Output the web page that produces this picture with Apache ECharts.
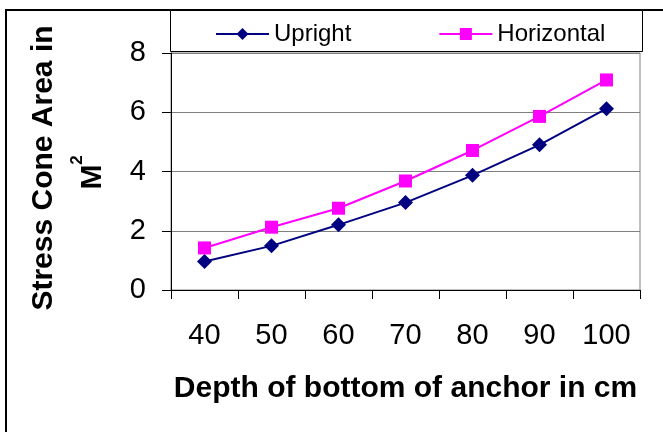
<!DOCTYPE html>
<html lang="en">
<head>
<meta charset="UTF-8">
<title>Stress Cone Area</title>
<script src="https://cdn.jsdelivr.net/npm/echarts@6/dist/echarts.min.js"></script>
<style>
  html, body { margin: 0; padding: 0; background: #fff; }
  #main { width: 663px; height: 432px; }
</style>
</head>
<body>
<div id="main"></div>
<script>
// depth of bottom of anchor (cm)
var depths = ['40', '50', '60', '70', '80', '90', '100'];
// stress cone area (m2)
var upright = [0.96, 1.49, 2.20, 2.95, 3.87, 4.90, 6.12];
var horizontal = [1.42, 2.12, 2.76, 3.68, 4.71, 5.86, 7.09];

var font = 'Arial, "Liberation Sans", sans-serif';

var chart = echarts.init(document.getElementById('main'));

var option = {
    backgroundColor: '#fff',
    animation: false,
    textStyle: { fontFamily: font },
    legend: {
        left: 210,
        top: 17,
        itemWidth: 53,
        itemHeight: 15,
        itemGap: 87,
        textStyle: { color: '#000', fontSize: 24, fontFamily: font },
        data: ['Upright', 'Horizontal']
    },
    grid: {
        left: 171,
        right: 23,
        top: 53,
        bottom: 142,
        show: true,
        borderColor: '#808080',
        borderWidth: 1
    },
    xAxis: {
        type: 'category',
        data: depths,
        boundaryGap: true,
        name: 'Depth of bottom of anchor in cm',
        nameLocation: 'middle',
        nameGap: 84,
        nameTextStyle: { color: '#000', fontSize: 30, fontWeight: 'bold', fontFamily: font },
        axisLine: { lineStyle: { color: '#000', width: 1 } },
        axisTick: { show: true, length: 9, interval: 0, lineStyle: { color: '#000' } },
        axisLabel: { color: '#000', fontSize: 29, margin: 31, interval: 0, fontFamily: font },
        splitLine: { show: false }
    },
    yAxis: {
        type: 'value',
        min: 0,
        max: 8,
        interval: 2,
        axisLine: { show: true, lineStyle: { color: '#000', width: 1 } },
        axisTick: { show: true, length: 9, lineStyle: { color: '#000' } },
        axisLabel: { color: '#000', fontSize: 29, margin: 25, fontFamily: font },
        splitLine: { show: true, lineStyle: { color: '#808080', width: 1 } }
    },
    graphic: [
        // outer chart frame
        {
            type: 'rect', silent: true, z: -1,
            shape: { x: 6, y: 10, width: 700, height: 500 },
            style: { fill: 'none', stroke: '#000', lineWidth: 2 }
        },
        // legend box
        {
            type: 'rect', silent: true,
            shape: { x: 170.5, y: 10.5, width: 472, height: 41 },
            style: { fill: '#fff', stroke: '#000', lineWidth: 1 },
            z: -1
        },
        {
            type: 'text', x: 44, y: 168, rotation: Math.PI / 2,
            style: {
                text: 'Stress Cone Area in', fill: '#000',
                font: 'bold 30px ' + font,
                textAlign: 'center', textVerticalAlign: 'middle'
            }
        },
        {
            type: 'text', x: 93, y: 177, rotation: Math.PI / 2,
            style: {
                text: 'M', fill: '#000',
                font: 'bold 30px ' + font,
                textAlign: 'center', textVerticalAlign: 'middle'
            }
        },
        {
            type: 'text', x: 77, y: 160, rotation: Math.PI / 2,
            style: {
                text: '2', fill: '#000',
                font: 'bold 17px ' + font,
                textAlign: 'center', textVerticalAlign: 'middle'
            }
        }
    ],
    series: [
        {
            name: 'Upright',
            type: 'line',
            data: upright,
            symbol: 'diamond',
            symbolSize: 15,
            color: '#000080',
            lineStyle: { width: 2, color: '#000080' },
            itemStyle: { color: '#000080' }
        },
        {
            name: 'Horizontal',
            type: 'line',
            data: horizontal,
            symbol: 'rect',
            symbolSize: 13,
            color: '#ff00ff',
            lineStyle: { width: 2, color: '#ff00ff' },
            itemStyle: { color: '#ff00ff' }
        }
    ]
};

chart.setOption(option);
</script>
</body>
</html>
